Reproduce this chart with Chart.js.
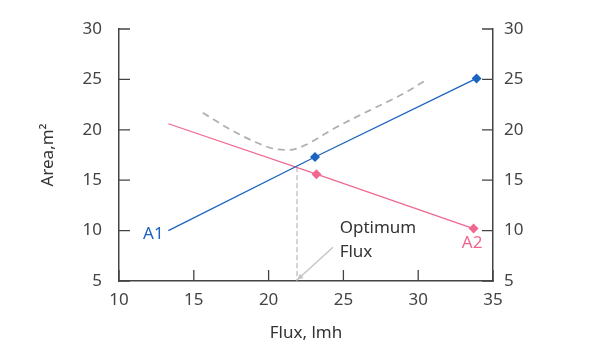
<!DOCTYPE html>
<html>
<head>
<meta charset="utf-8">
<style>
  html, body { margin: 0; padding: 0; background: #fff; }
  #chart { display: block; }
</style>
<script src="https://cdn.jsdelivr.net/npm/chart.js@4.4.1/dist/chart.umd.min.js"></script>
</head>
<body>
<canvas id="chart" width="600" height="348"></canvas>
<script>
// data (flux in lmh, area in m²)
const a1Points = [
    { x: 13.3, y: 10.0 },
    { x: 23.1, y: 17.3 },
    { x: 33.9, y: 25.1 },
];
const a2Points = [
    { x: 13.3, y: 20.6 },
    { x: 23.2, y: 15.6 },
    { x: 33.7, y: 10.2 },
];
const totalCurve = [
    { x: 15.6, y: 21.7 },
    { x: 17.3, y: 20.15 },
    { x: 19.1, y: 18.8 },
    { x: 20.4, y: 18.1 },
    { x: 21.4, y: 18.0 },
    { x: 22.4, y: 18.45 },
    { x: 24.4, y: 20.15 },
    { x: 26.65, y: 21.85 },
    { x: 28.9, y: 23.5 },
    { x: 30.55, y: 24.95 },
];
const optimumLine = [
    { x: 21.9, y: 16.3 },
    { x: 21.9, y: 5 },
];
const arrowFrom = { x: 24.3, y: 8.35 };
const arrowTo = { x: 21.9, y: 5.1 };

const xTicks = [10, 15, 20, 25, 30, 35];
const yTicks = [5, 10, 15, 20, 25, 30];

const textLabels = [
    { text: 'A1', x: 12.3, y: 9.65, color: '#1a63c0', align: 'center' },
    { text: 'A2', x: 33.6, y: 8.75, color: '#f0688f', align: 'center' },
    { text: 'Optimum', x: 24.75, y: 10.2, color: '#333', align: 'left' },
    { text: 'Flux', x: 24.75, y: 7.9, color: '#333', align: 'left' },
];

const BLUE = '#1a63c0';
const PINK = '#f0688f';
const AXIS = '#444';
const FONT = "'Noto Sans', sans-serif";

const ctx = document.getElementById('chart').getContext('2d');

// ticks pointing into the plot, plus arrow and text labels
const extrasPlugin = {
    id: 'extras',
    afterDraw(chart) {
        const c = chart.ctx;
        const x = chart.scales.x;
        const y = chart.scales.y;
        const area = chart.chartArea;
        const len = 11;

        c.save();
        c.strokeStyle = AXIS;
        c.lineWidth = 1.3;
        c.beginPath();
        xTicks.forEach(v => {
            const px = x.getPixelForValue(v);
            c.moveTo(px, area.bottom);
            c.lineTo(px, area.bottom - len);
        });
        yTicks.forEach(v => {
            const py = y.getPixelForValue(v);
            c.moveTo(area.left, py);
            c.lineTo(area.left + len, py);
            c.moveTo(area.right, py);
            c.lineTo(area.right - len, py);
        });
        c.stroke();

        // arrow
        const x1 = x.getPixelForValue(arrowFrom.x), y1 = y.getPixelForValue(arrowFrom.y);
        const x2 = x.getPixelForValue(arrowTo.x), y2 = y.getPixelForValue(arrowTo.y);
        c.strokeStyle = '#c4c4c4';
        c.fillStyle = '#c4c4c4';
        c.lineWidth = 1.4;
        c.beginPath();
        c.moveTo(x1, y1);
        c.lineTo(x2, y2);
        c.stroke();
        const ang = Math.atan2(y2 - y1, x2 - x1);
        const head = 7;
        c.beginPath();
        c.moveTo(x2, y2);
        c.lineTo(x2 - head * Math.cos(ang - 0.4), y2 - head * Math.sin(ang - 0.4));
        c.lineTo(x2 - head * Math.cos(ang + 0.4), y2 - head * Math.sin(ang + 0.4));
        c.closePath();
        c.fill();

        c.font = '17px ' + FONT;
        c.textBaseline = 'middle';
        textLabels.forEach(l => {
            c.fillStyle = l.color;
            c.textAlign = l.align;
            c.fillText(l.text, x.getPixelForValue(l.x), y.getPixelForValue(l.y));
        });
        c.restore();
    },
};

new Chart(ctx, {
    type: 'line',
    data: {
        datasets: [
            {
                label: 'A1',
                data: a1Points,
                borderColor: BLUE,
                backgroundColor: BLUE,
                borderWidth: 1.3,
                pointStyle: 'rectRot',
                pointRadius: [0, 5, 5],
                pointBorderWidth: 0,
                tension: 0,
            },
            {
                label: 'A2',
                data: a2Points,
                borderColor: PINK,
                backgroundColor: PINK,
                borderWidth: 1.3,
                pointStyle: 'rectRot',
                pointRadius: [0, 5, 5],
                pointBorderWidth: 0,
                tension: 0,
            },
            {
                label: 'Total',
                data: totalCurve,
                borderColor: '#b0b0b0',
                borderWidth: 1.8,
                borderDash: [7, 5],
                pointRadius: 0,
                cubicInterpolationMode: 'monotone',
            },
            {
                label: 'Optimum',
                data: optimumLine,
                borderColor: '#a8a8a8',
                borderWidth: 1,
                borderDash: [5, 3],
                pointRadius: 0,
            },
        ],
    },
    options: {
        responsive: false,
        animation: false,
        layout: { autoPadding: false, padding: { top: 29, left: 0, right: 0, bottom: 0 } },
        plugins: {
            legend: { display: false },
            tooltip: { enabled: false },
        },
        scales: {
            x: {
                type: 'linear',
                min: 10,
                max: 35,
                afterFit(scale) { scale.height = 67; },
                afterBuildTicks(scale) { scale.ticks = xTicks.map(v => ({ value: v })); },
                grid: { display: false, drawTicks: false },
                border: { display: true, color: AXIS, width: 1.5 },
                ticks: { color: '#444', padding: 9, font: { size: 17, family: FONT } },
                title: {
                    display: true,
                    text: 'Flux, lmh',
                    color: '#333',
                    padding: { top: 0, bottom: 5 },
                    font: { size: 17, family: FONT },
                },
            },
            y: {
                position: 'left',
                min: 5,
                max: 30,
                afterFit(scale) { scale.width = 119; },
                afterBuildTicks(scale) { scale.ticks = yTicks.map(v => ({ value: v })); },
                grid: { display: false, drawTicks: false },
                border: { display: true, color: AXIS, width: 1.5 },
                ticks: { color: '#444', padding: 17, font: { size: 17, family: FONT } },
                title: {
                    display: true,
                    text: 'Area,m²',
                    color: '#333',
                    padding: { top: 38, bottom: 0 },
                    font: { size: 17, family: FONT },
                },
            },
            y2: {
                position: 'right',
                min: 5,
                max: 30,
                afterFit(scale) { scale.width = 107; },
                afterBuildTicks(scale) { scale.ticks = yTicks.map(v => ({ value: v })); },
                grid: { display: false, drawTicks: false },
                border: { display: true, color: AXIS, width: 1.5 },
                ticks: { color: '#444', padding: 11, font: { size: 17, family: FONT } },
            },
        },
    },
    plugins: [extrasPlugin],
});
</script>
</body>
</html>
